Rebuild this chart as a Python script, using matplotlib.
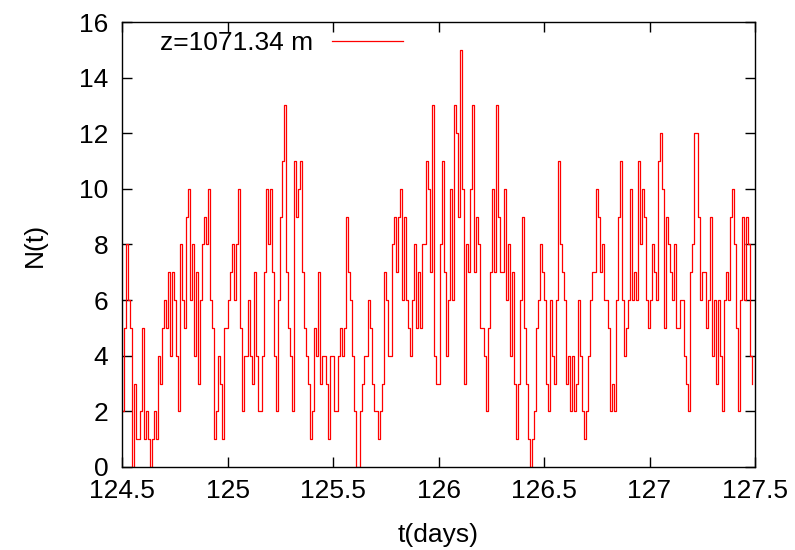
import numpy as np
import matplotlib
matplotlib.use("Agg")
import matplotlib.pyplot as plt

plt.rcParams['font.family'] = ['Liberation Sans', 'DejaVu Sans']

# sampling grid (days)
t_start = 124.5
t_step = 0.00948

# N(t) values, left to right
seg1 = [2, 5, 8, 6, 5, 0, 3, 1, 1, 2, 5, 1, 2, 1, 0, 1, 2, 1, 4, 3, 5, 6, 5, 7, 4, 7, 6, 4, 2, 8, 6, 5, 9, 10, 6, 8, 4, 7]
seg2 = [3, 6, 8, 9, 8, 10, 6, 5, 1, 2, 4, 3, 1, 5, 5, 6, 7, 8, 6, 8, 10, 5, 2, 4, 4, 6, 4, 3, 7, 4, 2, 2, 4, 7, 10, 8, 10, 7, 4, 2]
seg3 = [6, 9, 11, 13, 7, 5, 4, 2, 11, 9, 10, 11, 7, 5, 4, 3, 1, 2, 5, 4, 7, 3, 4, 4, 3, 1, 4, 4, 2, 2, 4, 5, 4, 5, 9, 7, 6, 4, 2, 0]
seg4 = [0, 2, 3, 4, 4, 6, 5, 3, 2, 2, 1, 2, 3, 7, 6, 4, 4, 8, 9, 7, 9, 10, 6, 9, 6, 5, 4, 6, 8, 5, 7, 5, 8, 8, 11, 10, 7, 13, 4, 3]
seg5 = [3, 8, 11, 7, 4, 6, 10, 6, 13, 12, 9, 15, 10, 3, 8, 7, 10, 13, 7, 9, 8, 5, 5, 4, 2, 5, 7, 10, 7, 13, 9, 7, 7, 10, 6, 8, 4, 7, 3, 1]
seg6 = [3, 6, 9, 5, 3, 1, 0, 1, 2, 5, 6, 8, 7, 6, 3, 2, 6, 4, 3, 6, 11, 8, 7, 6, 3, 4, 2, 4, 2, 3, 6, 4, 2, 1, 2, 4, 6, 7, 7, 10]
seg7 = [9, 7, 8, 6, 6, 5, 2, 3, 2, 6, 9, 11, 6, 4, 5, 6, 10, 6, 7, 6, 11, 8, 10, 9, 6, 5, 6, 8, 7, 6, 11, 12, 10, 5, 9, 8, 7, 6, 8, 5]
seg8 = [5, 6, 6, 4, 3, 2, 7, 8, 12, 12, 9, 6, 7, 7, 5, 6, 9, 4, 6, 3, 6, 4, 2, 6, 7, 6, 9, 10, 8, 5, 2, 6, 9, 6, 9, 8, 4, 3]

N = np.array(seg1 + seg2 + seg3 + seg4 + seg5 + seg6 + seg7 + seg8, dtype=float)
t = t_start + t_step * np.arange(len(N))

series_label = "z=1071.34 m"
x_label = "t(days)"
y_label = "N(t)"
x_ticks = [124.5, 125, 125.5, 126, 126.5, 127, 127.5]
x_tick_labels = ["124.5", "125", "125.5", "126", "126.5", "127", "127.5"]
y_ticks = [0, 2, 4, 6, 8, 10, 12, 14, 16]

FS = 19

fig = plt.figure(figsize=(7.95, 5.5), dpi=100)
ax = fig.add_axes([0.1535, 0.151, 0.7962, 0.809])

ax.plot(t, N, color='#ff0000', lw=0.9, drawstyle='steps-post', label=series_label)

ax.set_xlim(124.5, 127.5)
ax.set_ylim(0, 16)
ax.set_xticks(x_ticks)
ax.set_xticklabels(x_tick_labels)
ax.set_yticks(y_ticks)
ax.tick_params(direction='in', top=True, right=True, length=7, width=1,
               labelsize=FS, colors='black')
ax.tick_params(axis='x', pad=9)
ax.tick_params(axis='y', pad=10)
for s in ax.spines.values():
    s.set_linewidth(1.0)

ax.set_xlabel(x_label, fontsize=FS, labelpad=14)
ax.set_ylabel(y_label, fontsize=FS, labelpad=23)

leg = ax.legend(loc='upper left', frameon=False, markerfirst=False,
                fontsize=FS, handlelength=2.7, handletextpad=0.7,
                borderpad=0.0, borderaxespad=0.0,
                bbox_to_anchor=(0.06, 0.98))

fig.savefig("out.png", dpi=100)
